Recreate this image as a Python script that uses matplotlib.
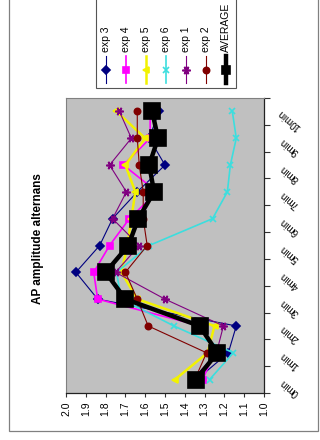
import matplotlib
matplotlib.use("Agg")
import matplotlib.pyplot as plt
from matplotlib.patches import Rectangle

plt.rcParams['font.family'] = ['Liberation Sans', 'DejaVu Sans']

# ----------------------------------------------------------------
# Data
# ----------------------------------------------------------------
time_labels = ["0min", "1min", "2min", "3min", "4min", "5min",
               "6min", "7min", "8min", "9min", "10min"]

exp3 = [1.34, 1.18, 1.14, 1.84, 1.95, 1.83, 1.765, 1.64, 1.50, 1.58, 1.53]
exp4 = [1.31, 1.25, 1.32, 1.84, 1.86, 1.78, 1.68, 1.54, 1.71, 1.575, 1.575]
exp5 = [1.45, 1.285, 1.25, 1.64, 1.72, 1.69, 1.67, 1.65, 1.70, 1.60, 1.745]
exp6 = [1.275, 1.155, 1.455, 1.72, 1.745, 1.58, 1.26, 1.185, 1.17, 1.14, 1.16]
exp1 = [1.36, 1.24, 1.205, 1.50, 1.75, 1.63, 1.765, 1.695, 1.78, 1.67, 1.73]
exp2 = [1.35, 1.29, 1.585, 1.64, 1.70, 1.59, 1.61, 1.61, 1.63, 1.64, 1.64]
average = [1.345, 1.235, 1.325, 1.70, 1.80, 1.685, 1.635, 1.555, 1.58, 1.535, 1.565]

value_ticks = [2.0, 1.9, 1.8, 1.7, 1.6, 1.5, 1.4, 1.3, 1.2, 1.1, 1.0]

names = ["exp 3", "exp 4", "exp 5", "exp 6", "exp 1", "exp 2", "AVERAGE"]
series = [exp3, exp4, exp5, exp6, exp1, exp2, average]

# style per series (chart is drawn turned a quarter turn to the left)
colors = ["#000080", "#ff00ff", "#f2f200", "#3cdede", "#800080", "#800000", "#000000"]
markers = ["D", "s", "<", "x", (6, 2, 90), "o", "s"]
msizes = [4, 4.5, 5, 5, 6, 4.5, 11]
lwidths = [0.8, 1.2, 1.8, 1.2, 0.8, 0.8, 3.2]

# ----------------------------------------------------------------
# Figure
# ----------------------------------------------------------------
W, H = 320, 440
fig = plt.figure(figsize=(W / 100, H / 100), dpi=100)

# overlay in pixel coords for frame, legend and title
lax = fig.add_axes([0, 0, 1, 1], zorder=0)
lax.set_xlim(0, W)
lax.set_ylim(H, 0)
lax.axis("off")

lax.add_patch(Rectangle((9, -10), 309, 441, fill=False, edgecolor="#808080", lw=0.9))

# plot area
left, right, top, bottom = 66, 264, 98, 393
ax = fig.add_axes([left / W, (H - bottom) / H, (right - left) / W, (bottom - top) / H], zorder=1)
ax.set_facecolor("#c0c0c0")

cats = list(range(len(time_labels)))
for vals, c, m, ms, lw in zip(series, colors, markers, msizes, lwidths):
    ax.plot(vals, cats, color=c, marker=m, markersize=ms, lw=lw,
            markeredgecolor=c, markerfacecolor=c, markeredgewidth=1.2)

ax.set_xlim(2.0, 1.0)
ax.set_ylim(-0.5, len(time_labels) - 0.5)

ax.set_xticks(value_ticks)
ax.set_xticklabels([f"{v:.1f}" for v in value_ticks], rotation=90, fontsize=7.5)
ax.tick_params(axis="x", direction="out", length=3, pad=3, color="#333333")

ax.set_yticks([i - 0.5 for i in range(len(time_labels) + 1)])
ax.set_yticklabels([])
ax.tick_params(axis="y", left=False, right=True, direction="out", length=4, color="#333333")
for i, lab in enumerate(time_labels):
    ax.text(1.13, i - 0.3, lab, transform=ax.get_yaxis_transform(), rotation=140,
            ha="center", va="center", fontsize=7, rotation_mode="anchor", clip_on=False)

for s in ["top", "left"]:
    ax.spines[s].set_color("#808080")
    ax.spines[s].set_linewidth(0.8)
for s in ["right", "bottom"]:
    ax.spines[s].set_color("#222222")
    ax.spines[s].set_linewidth(0.9)

# title
lax.text(38, 239, "AP amplitude alternans", rotation=90, ha="center", va="center",
         fontsize=8.5, fontweight="bold")

# legend (drawn by hand, turned like the chart)
lax.add_patch(Rectangle((96, -10), 140, 98, facecolor="white", edgecolor="#555555", lw=0.8))
for k, (name, c, m, ms, lw) in enumerate(zip(names, colors, markers, msizes, lwidths)):
    x = 106 + 20 * k
    lax.plot([x, x], [56, 83], color=c, lw=lw)
    lax.plot([x], [70], marker=m, color=c, markersize=min(ms, 6),
             markeredgecolor=c, markerfacecolor=c, markeredgewidth=1.2)
    lax.text(x, 52, name, rotation=90, ha="center", va="bottom", fontsize=7.5)

fig.savefig("out.png", dpi=100)
